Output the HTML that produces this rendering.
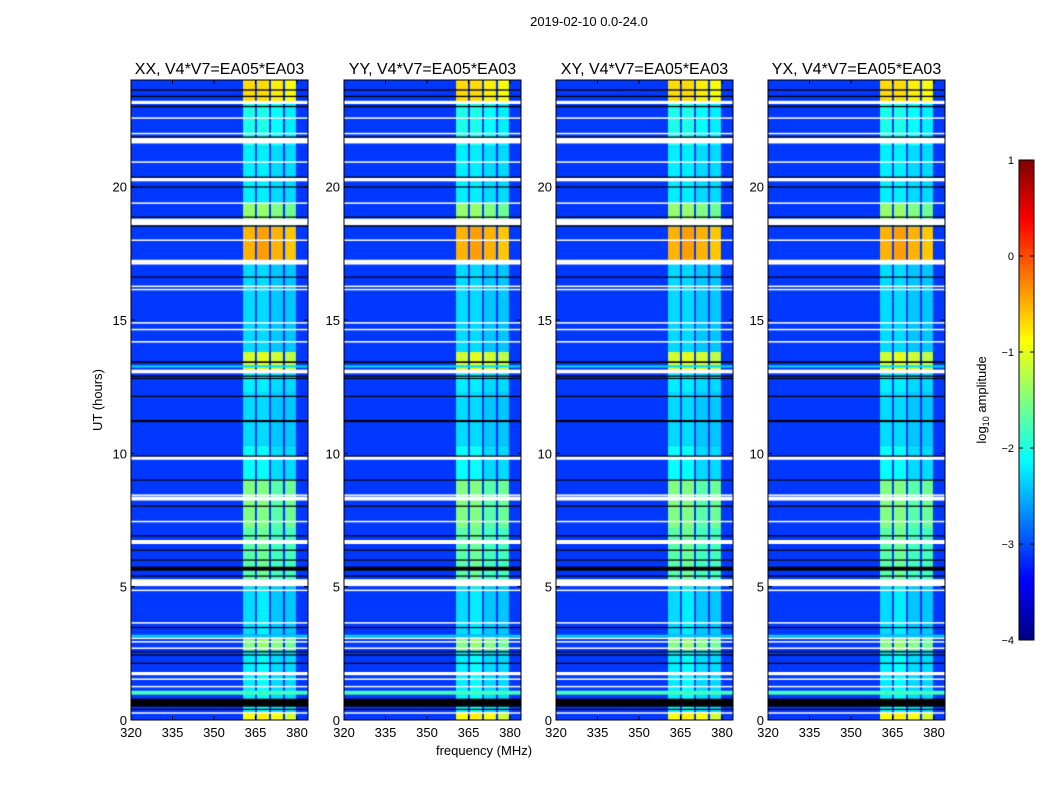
<!DOCTYPE html>
<html><head><meta charset="utf-8">
<style>
body{margin:0;background:#fff;font-family:"Liberation Sans",sans-serif;}
#root{position:relative;width:1050px;height:800px;overflow:hidden;background:#fff;}
canvas{position:absolute;}
svg{position:absolute;left:0;top:0;}
</style></head>
<body>
<div id="root">
<svg id="svg" width="1050" height="800"></svg>
</div>
<script>
// ---- data ----
const panelTitles = ["XX, V4*V7=EA05*EA03","YY, V4*V7=EA05*EA03","XY, V4*V7=EA05*EA03","YX, V4*V7=EA05*EA03"];
const xTicks = [320,335,350,365,380];
const yTicks = [0,5,10,15,20];
const cbTicks = [1,0,-1,-2,-3,-4];
const subbands = [[360.5,364.8],[365.5,369.9],[370.6,374.9],[375.7,379.6]];
const bgLevel = -3.1;
const segStart = [0,0.3,2.6,3.2,5.0,7.2,9.0,10.3,12.3,13.0,13.8,17.2,18.5,19.4,21.5,23.2];
const segEnd   = [0.3,2.6,3.2,5.0,7.2,9.0,10.3,12.3,13.0,13.8,17.2,18.5,19.4,21.5,23.2,24];
const segBand  = [
 [-0.9,-0.8,-0.9,-1.1],[-2.2,-2.1,-2.3,-2.3],[-1.5,-1.4,-1.5,-1.6],[-2.3,-2.2,-2.4,-2.4],
 [-1.7,-1.6,-1.8,-1.8],[-1.5,-1.5,-1.7,-1.6],[-2.1,-2.1,-2.3,-2.3],[-2.3,-2.3,-2.4,-2.4],
 [-2.2,-2.2,-2.3,-2.3],[-1.1,-1.0,-1.1,-1.2],[-2.3,-2.3,-2.4,-2.4],[-0.5,-0.4,-0.5,-0.6],
 [-1.4,-1.4,-1.5,-1.6],[-2.2,-2.2,-2.3,-2.3],[-2.0,-2.0,-2.1,-2.2],[-0.7,-0.7,-0.8,-0.9]];
const stripeStart = [13.22,3.1,0.95];
const stripeEnd   = [13.30,3.2,1.1];
const stripeLevel = [-2.3,-2.4,-1.8];
const whiteStart = [23.10,22.55,21.98,21.62,20.90,20.20,19.37,18.55,17.98,17.08,16.25,16.13,14.88,14.63,14.17,13.00,9.76,8.42,8.23,7.43,6.60,5.02,4.85,3.63,3.05,2.92,2.68,1.68,1.52,1.24,0.25];
const whiteEnd   = [23.22,22.60,22.02,21.84,20.95,20.33,19.41,18.80,18.02,17.26,16.29,16.17,14.92,14.67,14.21,13.14,9.89,8.46,8.38,7.47,6.75,5.28,4.89,3.67,3.09,2.96,2.72,1.80,1.56,1.28,0.29];
const blackStart = [23.60,23.36,22.98,21.84,20.34,19.97,18.84,18.50,16.59,13.39,12.87,12.79,12.12,11.17,9.88,8.98,8.00,6.89,6.35,5.98,5.60,5.38,3.45,2.54,2.42,2.11,0.50,0.38];
const blackEnd   = [23.65,23.41,23.03,21.88,20.38,20.01,18.88,18.55,16.63,13.45,12.92,12.83,12.16,11.25,9.92,9.02,8.04,6.93,6.39,6.02,5.75,5.42,3.49,2.58,2.46,2.15,0.80,0.42];

// ---- layout ----
const panelX=[131,344,556,768], PW=177, PT=80, PH=640;
const fx = f => (f-320)*(166/60);
const hy = h => PH - h*(PH/24);
function jet(v){ // v in [-4,1]
  let t=(v+4)/5; t=Math.max(0,Math.min(1,t));
  const r=Math.max(0,Math.min(1,1.5-Math.abs(4*t-3)));
  const g=Math.max(0,Math.min(1,1.5-Math.abs(4*t-2)));
  const b=Math.max(0,Math.min(1,1.5-Math.abs(4*t-1)));
  return `rgb(${Math.round(r*255)},${Math.round(g*255)},${Math.round(b*255)})`;
}
const root=document.getElementById('root');
const svg=document.getElementById('svg');
const NS='http://www.w3.org/2000/svg';
function el(tag,attrs,parent){const e=document.createElementNS(NS,tag);for(const k in attrs)e.setAttribute(k,attrs[k]);(parent||svg).appendChild(e);return e;}
function txt(x,y,s,size,anchor,extra){const t=el('text',Object.assign({x:x,y:y,'font-size':size,'text-anchor':anchor||'middle','font-family':'Liberation Sans, sans-serif',fill:'#000'},extra||{}));t.textContent=s;return t;}

const sup = txt(589,26,"2019-02-10 0.0-24.0",13);



panelX.forEach((px,pi)=>{
  const c=document.createElement('canvas');
  c.width=PW;c.height=PH;c.style.left=px+'px';c.style.top=PT+'px';
  
  
  root.insertBefore(c,svg);
  const ctx=c.getContext('2d');
  ctx.fillStyle=jet(bgLevel);ctx.fillRect(0,0,PW,PH);
  segStart.forEach((s,i)=>{
    const y0=hy(segEnd[i]), y1=hy(s);
    subbands.forEach((sb,j)=>{
      ctx.fillStyle=jet(segBand[i][j]);
      ctx.fillRect(fx(sb[0]),y0,fx(sb[1])-fx(sb[0]),y1-y0);
    });
  });
  stripeStart.forEach((s,i)=>{ctx.fillStyle=jet(stripeLevel[i]);const y0=hy(stripeEnd[i]);ctx.fillRect(0,y0,PW,hy(s)-y0);});
  whiteStart.forEach((s,i)=>{ctx.fillStyle='#fff';const y0=hy(whiteEnd[i]);ctx.fillRect(0,y0,PW,Math.max(1.5,hy(s)-y0));});
  blackStart.forEach((s,i)=>{ctx.fillStyle='#000';const y0=hy(blackEnd[i]);ctx.fillRect(0,y0,PW,Math.max(1.2,hy(s)-y0));});

  const g=el('g',{});
  
  
  el('rect',{x:px,y:PT,width:PW,height:PH,fill:'none',stroke:'#000','stroke-width':1},g);
  const tt=txt(px+PW/2,74,panelTitles[pi],16,'middle');
  
  
  xTicks.forEach(v=>{
    const x=px+fx(v);
    el('line',{x1:x,y1:PT+PH,x2:x,y2:PT+PH-4,stroke:'#000'},g);
    el('line',{x1:x,y1:PT,x2:x,y2:PT+4,stroke:'#000'},g);
    const t=txt(x,PT+PH+17,String(v),13,'middle');
    
    
  });
  yTicks.forEach(v=>{
    const y=PT+hy(v);
    el('line',{x1:px,y1:y,x2:px+4,y2:y,stroke:'#000'},g);
    el('line',{x1:px+PW,y1:y,x2:px+PW-4,y2:y,stroke:'#000'},g);
    const t=txt(px-4,y+5,String(v),13,'end');
    
    
  });
});

const yl=txt(0,0,"UT (hours)",13,'middle',{transform:'translate(102,400) rotate(-90)'});


const xl=txt(484,755,"frequency (MHz)",13,'middle');



// colorbar
const CBX=1019,CBY=160,CBW=15,CBH=480;
const cb=document.createElement('canvas');
cb.width=CBW;cb.height=CBH;cb.style.left=CBX+'px';cb.style.top=CBY+'px';


root.insertBefore(cb,svg);
const cctx=cb.getContext('2d');
for(let i=0;i<CBH;i++){cctx.fillStyle=jet(1-5*i/CBH);cctx.fillRect(0,i,CBW,1);}
el('rect',{x:CBX,y:CBY,width:CBW,height:CBH,fill:'none',stroke:'#000'});
cbTicks.forEach(v=>{
  const y=CBY+(1-v)/5*CBH;
  el('line',{x1:CBX,y1:y,x2:CBX+4,y2:y,stroke:'#000'});
  el('line',{x1:CBX+CBW,y1:y,x2:CBX+CBW-4,y2:y,stroke:'#000'});
  const t=txt(CBX-5,y+4,(v<0?'\u2212':'')+Math.abs(v),11,'end');
  
  
});
const cl=el('text',{x:0,y:0,'font-size':13,'text-anchor':'middle','font-family':'Liberation Sans, sans-serif',transform:'translate(986,400) rotate(-90)'});
cl.innerHTML='log<tspan font-size="9" dy="3">10</tspan><tspan dy="-3"> amplitude</tspan>';


</script>
</body></html>
